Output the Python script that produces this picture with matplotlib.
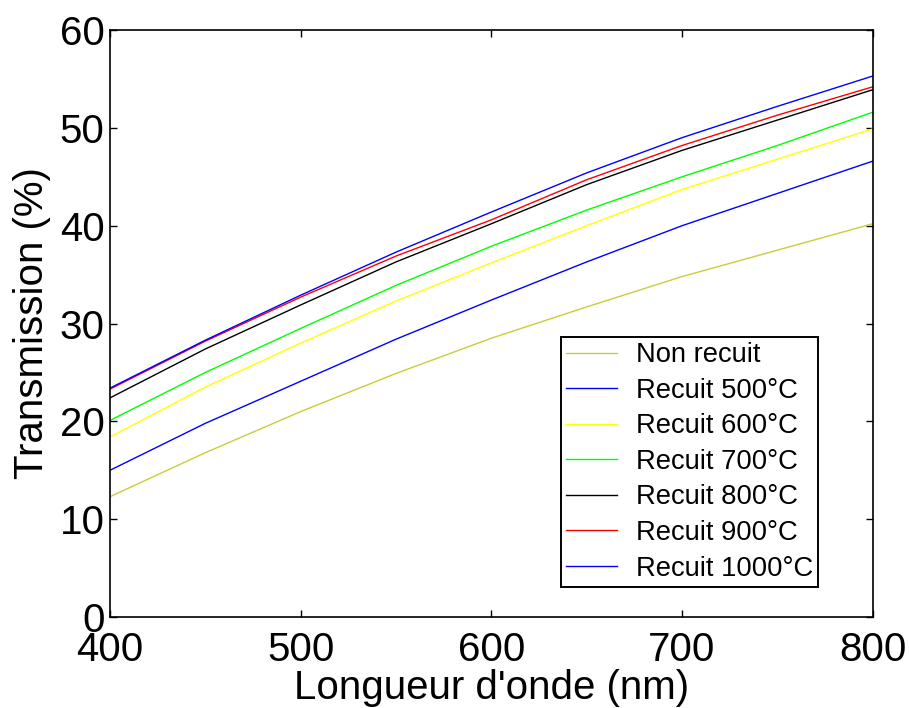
import matplotlib
matplotlib.use("Agg")
import matplotlib.pyplot as plt

plt.rcParams["font.family"] = ["Liberation Sans", "DejaVu Sans"]

# Values (nm, %)
wavelength = [400, 450, 500, 550, 600, 650, 700, 750, 800]
non_recuit = [12.3, 16.8, 21.0, 24.9, 28.5, 31.7, 34.8, 37.5, 40.2]
recuit_500 = [15.0, 19.8, 24.1, 28.4, 32.4, 36.3, 40.0, 43.3, 46.6]
recuit_600 = [18.4, 23.5, 28.0, 32.3, 36.2, 40.0, 43.7, 46.8, 49.9]
recuit_700 = [20.1, 25.0, 29.5, 33.9, 37.9, 41.6, 45.0, 48.2, 51.6]
recuit_800 = [22.4, 27.4, 31.9, 36.3, 40.2, 44.2, 47.7, 50.8, 53.9]
recuit_900 = [23.3, 28.2, 32.7, 36.9, 40.6, 44.7, 48.2, 51.3, 54.2]
recuit_1000 = [23.4, 28.3, 32.9, 37.3, 41.4, 45.4, 49.0, 52.2, 55.3]

labels = ["Non recuit", "Recuit 500°C", "Recuit 600°C", "Recuit 700°C",
          "Recuit 800°C", "Recuit 900°C", "Recuit 1000°C"]
series = [non_recuit, recuit_500, recuit_600, recuit_700,
          recuit_800, recuit_900, recuit_1000]
colours = ["#cccc3a", "#0000ff", "#ffff00", "#00ff00",
           "#000000", "#ff0000", "#0000ff"]

fig = plt.figure(figsize=(9.09, 7.08), dpi=100)
ax = fig.add_axes([0.121, 0.1285, 0.839, 0.829])

for values, label, colour in zip(series, labels, colours):
    ax.plot(wavelength, values, color=colour, linewidth=1.0, label=label)

ax.set_xlim(400, 800)
ax.set_ylim(0, 60)
ax.set_xticks([400, 500, 600, 700, 800])
ax.set_yticks([0, 10, 20, 30, 40, 50, 60])
ax.tick_params(direction="in", top=True, right=True, length=5, width=1,
               labelsize=29)
ax.tick_params(axis="x", pad=10)
ax.tick_params(axis="y", pad=4)
for spine in ax.spines.values():
    spine.set_linewidth(1.2)

ax.set_xlabel("Longueur d'onde (nm)", fontsize=29, labelpad=0)
ax.set_ylabel("Transmission (%)", fontsize=29, labelpad=6)

leg = ax.legend(loc="lower right", bbox_to_anchor=(0.929, 0.051),
                borderaxespad=0, fontsize=19.7, fancybox=False,
                framealpha=1, edgecolor="black", handlelength=1.85,
                handletextpad=0.7, labelspacing=0.35, borderpad=0.2)
leg.get_frame().set_linewidth(1.4)

fig.savefig("out.png", dpi=100)
